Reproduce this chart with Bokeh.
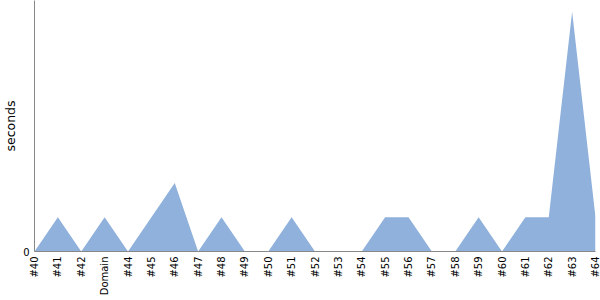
import math
from bokeh.plotting import figure
from bokeh.models import Range1d, FixedTicker
from bokeh.embed import file_html
from bokeh.resources import INLINE

labels = ["#40", "#41", "#42", "Domain", "#44", "#45", "#46", "#47", "#48", "#49",
          "#50", "#51", "#52", "#53", "#54", "#55", "#56", "#57", "#58", "#59",
          "#60", "#61", "#62", "#63", "#64"]
seconds = [0, 1, 0, 1, 0, 1, 2, 0, 1, 0,
           0, 1, 0, 0, 0, 1, 1, 0, 0, 1,
           0, 1, 1, 7, 1]

xs = list(range(len(labels)))

p = figure(width=600, height=300, output_backend="svg", toolbar_location=None,
           x_range=Range1d(0, len(labels) - 1), y_range=Range1d(0, 7.33),
           min_border_left=33, min_border_right=5, min_border_top=0, min_border_bottom=49)

p.varea(x=xs, y1=[0] * len(xs), y2=seconds, fill_color="#8fb1db", fill_alpha=1.0)

p.xgrid.visible = False
p.ygrid.visible = False
p.outline_line_color = None

p.xaxis.ticker = FixedTicker(ticks=xs)
p.xaxis.major_label_overrides = {i: l for i, l in enumerate(labels)}
p.xaxis.major_label_orientation = math.pi / 2
p.yaxis.ticker = FixedTicker(ticks=[0])
p.yaxis.axis_label = "seconds"

for ax in (p.xaxis, p.yaxis):
    ax.major_tick_line_color = None
    ax.minor_tick_line_color = None
    ax.major_tick_out = 0
    ax.major_tick_in = 0
    ax.minor_tick_out = 0
    ax.minor_tick_in = 0
    ax.axis_line_color = "#888888"
    ax.major_label_text_font = "DejaVu Sans"
    ax.major_label_text_font_size = "10px"
    ax.major_label_text_color = "#000000"
    ax.major_label_standoff = 5

p.yaxis.axis_label_text_font = "DejaVu Sans"
p.yaxis.axis_label_text_font_size = "12.5px"
p.yaxis.axis_label_text_font_style = "normal"
p.yaxis.axis_label_text_color = "#000000"
p.yaxis.axis_label_standoff = 2

open("out.html", "w").write(file_html(p, INLINE))
